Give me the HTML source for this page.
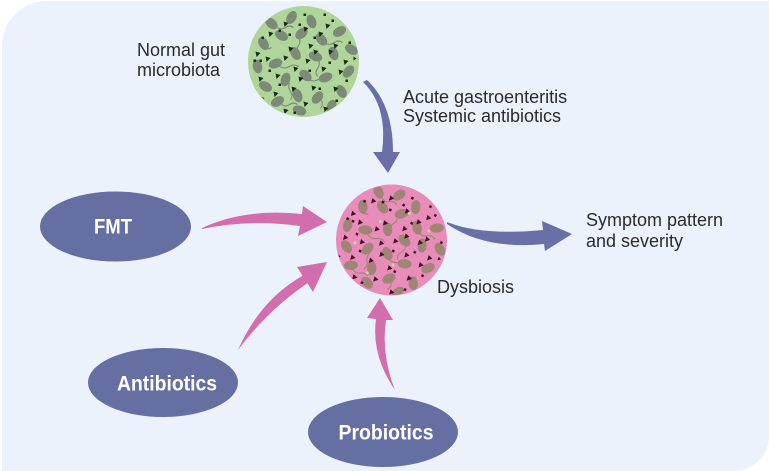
<!DOCTYPE html>
<html><head><meta charset="utf-8"><style>
html,body{margin:0;padding:0;background:#fff;}
svg{display:block;}
text{font-family:"Liberation Sans",Arial,sans-serif;}
</style></head><body>
<svg width="769" height="471" viewBox="0 0 769 471" xmlns="http://www.w3.org/2000/svg">
<defs>
<clipPath id="cc"><circle cx="0" cy="0" r="55"/></clipPath>
<g id="blobs">
<ellipse cx="-32" cy="-38" rx="6.5" ry="4.2" transform="rotate(40 -32 -38)"/>
<ellipse cx="-12" cy="-44" rx="6.5" ry="4.2" transform="rotate(-60 -12 -44)"/>
<ellipse cx="8" cy="-40" rx="6.5" ry="4.2" transform="rotate(70 8 -40)"/>
<ellipse cx="-40" cy="-18" rx="6.5" ry="4.2" transform="rotate(60 -40 -18)"/>
<ellipse cx="-22" cy="-26" rx="6.5" ry="4.2" transform="rotate(30 -22 -26)"/>
<ellipse cx="-2" cy="-28" rx="6.5" ry="4.2" transform="rotate(-40 -2 -28)"/>
<ellipse cx="18" cy="-22" rx="6.5" ry="4.2" transform="rotate(50 18 -22)"/>
<ellipse cx="36" cy="-30" rx="6.5" ry="4.2" transform="rotate(-30 36 -30)"/>
<ellipse cx="-46" cy="5" rx="6.5" ry="4.2" transform="rotate(80 -46 5)"/>
<ellipse cx="-28" cy="2" rx="6.5" ry="4.2" transform="rotate(-20 -28 2)"/>
<ellipse cx="-8" cy="-8" rx="6.5" ry="4.2" transform="rotate(60 -8 -8)"/>
<ellipse cx="12" cy="-5" rx="6.5" ry="4.2" transform="rotate(20 12 -5)"/>
<ellipse cx="30" cy="-8" rx="6.5" ry="4.2" transform="rotate(70 30 -8)"/>
<ellipse cx="45" cy="10" rx="6.5" ry="4.2" transform="rotate(-50 45 10)"/>
<ellipse cx="-38" cy="25" rx="6.5" ry="4.2" transform="rotate(30 -38 25)"/>
<ellipse cx="-18" cy="18" rx="6.5" ry="4.2" transform="rotate(-70 -18 18)"/>
<ellipse cx="2" cy="14" rx="6.5" ry="4.2" transform="rotate(40 2 14)"/>
<ellipse cx="22" cy="16" rx="6.5" ry="4.2" transform="rotate(-20 22 16)"/>
<ellipse cx="38" cy="30" rx="6.5" ry="4.2" transform="rotate(60 38 30)"/>
<ellipse cx="-26" cy="40" rx="6.5" ry="4.2" transform="rotate(-30 -26 40)"/>
<ellipse cx="-6" cy="34" rx="6.5" ry="4.2" transform="rotate(70 -6 34)"/>
<ellipse cx="14" cy="36" rx="6.5" ry="4.2" transform="rotate(-50 14 36)"/>
<ellipse cx="-4" cy="49" rx="6.5" ry="4.2" transform="rotate(20 -4 49)"/>
<ellipse cx="28" cy="45" rx="6.5" ry="4.2" transform="rotate(-70 28 45)"/>
<ellipse cx="48" cy="-12" rx="6.5" ry="4.2" transform="rotate(30 48 -12)"/>
<g fill="none" stroke-width="1.1">
<path d="M-26,-34 q4,3 8,0 q4,-3 8,0"/>
<path d="M-5,-24 q3,4 0,8 q-3,4 0,8"/>
<path d="M22,-18 q5,2 9,-1 q4,-3 8,0"/>
<path d="M-24,5 q5,3 10,0 q4,-3 9,0"/>
<path d="M15,-2 q2,5 -1,9 q-3,4 0,8"/>
<path d="M-14,21 q-2,5 1,9 q3,4 0,8"/>
<path d="M5,18 q5,3 10,0 q4,-3 9,1"/>
<path d="M-22,43 q4,3 8,0 q4,-3 8,0"/>
<path d="M18,39 q2,4 -1,8"/>
<path d="M-40,-14 q4,3 8,0"/>
</g>
</g>
<g id="tris">
<path d="M-20,-40 l5,1.5 l-4,4z M0,-35 l5,1.5 l-4,4z M22,-38 l5,1.5 l-4,4z M-35,-30 l5,1.5 l-4,4z M15,-30 l5,1.5 l-4,4z M30,-18 l5,1.5 l-4,4z M-48,-10 l5,1.5 l-4,4z M-15,-15 l5,1.5 l-4,4z M5,-18 l5,1.5 l-4,4z M25,-12 l5,1.5 l-4,4z M-38,-5 l5,1.5 l-4,4z M-20,-6 l5,1.5 l-4,4z M2,-3 l5,1.5 l-4,4z M40,-2 l5,1.5 l-4,4z M-45,15 l5,1.5 l-4,4z M-28,12 l5,1.5 l-4,4z M-10,5 l5,1.5 l-4,4z M18,5 l5,1.5 l-4,4z M35,8 l5,1.5 l-4,4z M-30,30 l5,1.5 l-4,4z M-12,25 l5,1.5 l-4,4z M8,24 l5,1.5 l-4,4z M30,25 l5,1.5 l-4,4z M-20,47 l5,1.5 l-4,4z M0,40 l5,1.5 l-4,4z M20,45 l5,1.5 l-4,4z M40,38 l5,1.5 l-4,4z M-44,35 l5,1.5 l-4,4z M10,-12 l5,1.5 l-4,4z M-5,15 l5,1.5 l-4,4z M50,-5 l3,2 l-3,2z"/>
<rect x="-25" y="-32" width="2.5" height="2.5"/><rect x="-5" y="-38" width="2.5" height="2.5"/>
<rect x="28" y="-42" width="2.5" height="2.5"/><rect x="-42" y="-25" width="2.5" height="2.5"/>
<rect x="10" y="-25" width="2.5" height="2.5"/><rect x="45" y="-20" width="2.5" height="2.5"/>
<rect x="-35" y="8" width="2.5" height="2.5"/><rect x="-15" y="-28" width="2.5" height="2.5"/>
<rect x="25" y="0" width="2.5" height="2.5"/><rect x="-50" y="-2" width="2.5" height="2.5"/>
<rect x="5" y="8" width="2.5" height="2.5"/><rect x="-25" y="22" width="2.5" height="2.5"/>
<rect x="15" y="26" width="2.5" height="2.5"/><rect x="42" y="18" width="2.5" height="2.5"/>
<rect x="-10" y="50" width="2.5" height="2.5"/><rect x="32" y="38" width="2.5" height="2.5"/>
<rect x="-36" y="45" width="2.5" height="2.5"/><rect x="0" y="-48" width="2.5" height="2.5"/>
<rect x="20" y="-48" width="2.5" height="2.5"/><rect x="-44" y="-2" width="2.5" height="2.5"/>
</g>
</defs>

<path d="M2,46 A45,45 0 0 1 47,1 L769,1 L769,436 A35,35 0 0 1 734,471 L2,471 Z" fill="#EBF2FC"/>

<!-- green circle -->
<g transform="translate(303.5,61.5)">
<circle r="55.5" fill="#AFD59B"/>
<g clip-path="url(#cc)">
<use href="#blobs" fill="#7C8B78" stroke="#7C8B78"/>
<use href="#tris" fill="#1E2A1E"/>
</g>
</g>

<!-- pink circle -->
<g transform="translate(391.5,240) rotate(25)">
<circle r="55.5" fill="#E88DB9"/>
<g clip-path="url(#cc)">
<use href="#blobs" fill="#A08577" stroke="#A08577"/>
<use href="#tris" fill="#4A0F2A"/>
<g fill="#C9D9A0">
<circle cx="-18" cy="-12" r="1.5"/><circle cx="12" cy="22" r="1.5"/><circle cx="30" cy="-24" r="1.5"/><circle cx="-32" cy="18" r="1.5"/><circle cx="5" cy="-32" r="1.5"/><circle cx="-8" cy="40" r="1.5"/>
</g>
</g>
</g>

<!-- arrows -->
<g fill="#6A70A7">
<path d="M363,82 Q388,106 382,152 L373,152 L388,173 L400,152 L393,152 Q393,104 367,80 Z"/>
<path d="M447,222 Q482,236 543,230 L542,221 L572,234 L545,251 L544,244 Q485,250 447,224 Z"/>
</g>
<g fill="#D16EAB">
<path d="M202,228 Q245,208 302,214 L303,206 L327,222 L298,236 L300,226 Q250,219 202,229 Z"/>
<path d="M238,350 Q260,300 302.6,275.8 L297,267 L327,262 L313,292 L307.4,283.3 Q268,310 238,350 Z"/>
<path d="M395,390 Q371,355 376,319 L367,318 L380,298 L393,320 L386,320 Q381,355 395,390 Z"/>
</g>

<!-- ellipses -->
<g fill="#666FA2">
<ellipse cx="115.5" cy="226.5" rx="75.5" ry="35"/>
<ellipse cx="163" cy="382.5" rx="75" ry="34.5"/>
<ellipse cx="383" cy="432" rx="75" ry="35"/>
</g>
<g fill="#FFFFFF" font-weight="bold" font-size="21" text-anchor="middle">
<text x="113" y="233.5" textLength="38" lengthAdjust="spacingAndGlyphs">FMT</text>
<text x="167" y="390.5" textLength="100" lengthAdjust="spacingAndGlyphs">Antibiotics</text>
<text x="386" y="439.5" textLength="95" lengthAdjust="spacingAndGlyphs">Probiotics</text>
</g>

<g fill="#2B2B2B" font-size="18">
<text x="137" y="56">Normal gut</text>
<text x="137" y="76">microbiota</text>
<text x="403" y="103">Acute gastroenteritis</text>
<text x="403" y="122">Systemic antibiotics</text>
<text x="586" y="226">Symptom pattern</text>
<text x="586" y="247">and severity</text>
<text x="437" y="293">Dysbiosis</text>
</g>
</svg>
</body></html>
